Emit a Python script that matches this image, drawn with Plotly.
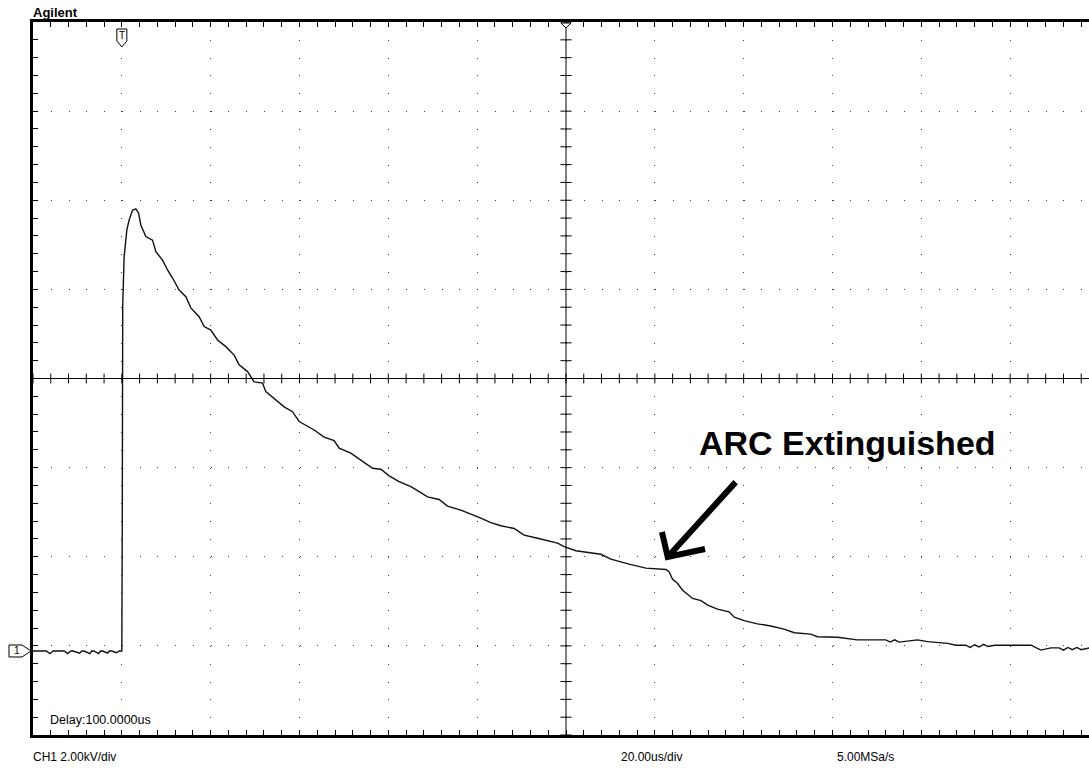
import plotly.graph_objects as go

# ---------------- data (time in us after trigger, voltage in kV) ----------------
t_us = [-20.0, -17.0, -16.2, -15.5, -15.0, -13.0, -12.2, -11.5, -11.0, -9.5, -9.0, -8.5,
        -7.2, -6.8, -6.3, -5.2, -4.8, -4.3, -3.2, -2.8, -2.3, -1.2, -0.6, -0.2,
        0.0, 0.1, 0.2, 0.52, 1.13, 1.64, 2.41, 3.15, 3.76, 4.28, 5.40, 6.91, 7.66,
        9.16, 10.29, 11.42, 12.90, 14.41, 15.54, 17.40, 18.53, 20.04, 21.55, 23.42,
        25.28, 26.41, 28.30, 29.79, 31.68, 32.42, 34.29, 36.54, 38.43, 39.92,
        43.30, 45.55, 47.80, 48.93, 51.56, 53.81, 56.45, 58.31, 60.18, 62.43, 65.07,
        66.58, 68.83, 71.44, 73.33, 76.33, 79.32, 80.83, 83.08, 85.33, 88.33, 90.58,
        93.60, 95.85, 98.10, 99.59, 102.22, 107.85, 110.1, 114.2, 118.0, 122.5,
        123.2, 124.0, 125.1, 126.2, 127.4, 128.5, 130.4, 131.9, 134.1, 136.7, 137.9,
        140.1, 143.1, 146.1, 149.1, 151.4, 155.1, 156.6, 161.1, 165.6, 170.0, 172.0,
        173.0, 174.0, 175.0, 179.1, 181.4, 185.9, 187.8, 190.0, 191.0, 192.0, 193.0,
        194.0, 195.0, 196.5, 204.7, 206.9, 209.2, 211.0, 212.0, 213.0, 214.0, 215.0,
        216.0, 217.9]
v_kv = [0.0, 0.0, -0.06, 0.0, 0.0, 0.0, -0.06, 0.0, 0.0, -0.05, 0.0, 0.0,
        -0.06, 0.0, 0.0, -0.06, 0.0, 0.0, -0.05, 0.0, 0.0, -0.04, 0.0, 0.0,
        0.0, 3.0, 7.76, 8.85, 9.45, 9.67, 9.89, 9.92, 9.83, 9.56, 9.30, 9.22, 8.96,
        8.77, 8.55, 8.37, 8.10, 7.95, 7.70, 7.50, 7.28, 7.20, 6.98, 6.83,
        6.64, 6.42, 6.27, 6.04, 6.01, 5.82, 5.67, 5.48, 5.37, 5.15,
        4.96, 4.80, 4.72, 4.55, 4.44, 4.29, 4.10, 4.08, 3.93, 3.80, 3.69,
        3.60, 3.46, 3.40, 3.25, 3.16, 3.05, 2.98, 2.88, 2.81, 2.75, 2.60,
        2.53, 2.48, 2.42, 2.34, 2.25, 2.17, 2.06, 1.95, 1.86, 1.83,
        1.78, 1.61, 1.52, 1.37, 1.26, 1.18, 1.13, 1.03, 0.94, 0.88, 0.76,
        0.68, 0.61, 0.56, 0.49, 0.41, 0.38, 0.32, 0.31, 0.25, 0.25, 0.25,
        0.20, 0.25, 0.20, 0.25, 0.21, 0.17, 0.13, 0.13, 0.08, 0.14, 0.09,
        0.15, 0.10, 0.13, 0.13, 0.02, 0.07, 0.07, 0.02, 0.08, 0.03, 0.08,
        0.03, 0.07]

# screen settings
T_LEFT = -20.0          # us at left edge of screen
US_PER_DIV = 20.0
KV_PER_DIV = 2.0
CENTER_KV = 6.115       # voltage at screen centre (channel offset)
N_VDIV = 8
T_RIGHT = 217.75        # visible right edge (screen is cut off)
T_CENTER = 100.0        # delay

V_BOT = CENTER_KV - KV_PER_DIV * N_VDIV / 2
V_TOP = CENTER_KV + KV_PER_DIV * N_VDIV / 2

W, H = 1089, 768
ML, MR, MT, MB = 33, 0, 22, 33
PW, PH = W - ML - MR, H - MT - MB

def px_x(t):
    return (t - T_LEFT) / (T_RIGHT - T_LEFT)

def py_v(v):
    return (v - V_BOT) / (V_TOP - V_BOT)

div_px_x = PW * US_PER_DIV / (T_RIGHT - T_LEFT)
div_px_y = PH / N_VDIV

fig = go.Figure()

fig.add_trace(go.Scatter(x=t_us, y=v_kv, mode="lines",
                         line=dict(color="#111111", width=1.4),
                         hoverinfo="skip", showlegend=False))

# centre cross tick marks
tx = []
t = T_LEFT
while t <= T_RIGHT + 1e-9:
    tx.append(t)
    t += US_PER_DIV / 5
fig.add_trace(go.Scatter(x=tx, y=[CENTER_KV] * len(tx), mode="markers",
                         marker=dict(symbol="line-ns", size=7, line=dict(color="black", width=1)),
                         hoverinfo="skip", showlegend=False, cliponaxis=True))
vy = [V_BOT + k * KV_PER_DIV / 5 for k in range(N_VDIV * 5 + 1)]
fig.add_trace(go.Scatter(x=[T_CENTER] * len(vy), y=vy, mode="markers",
                         marker=dict(symbol="line-ew", size=8, line=dict(color="black", width=1)),
                         hoverinfo="skip", showlegend=False, cliponaxis=True))

# centre cross lines
fig.add_shape(type="line", xref="x", yref="paper", x0=T_CENTER, x1=T_CENTER, y0=0, y1=1,
              line=dict(color="black", width=1), layer="above")
fig.add_shape(type="line", xref="paper", yref="y", x0=0, x1=1, y0=CENTER_KV, y1=CENTER_KV,
              line=dict(color="black", width=1), layer="above")

# trigger marker (T) at top
tx0 = px_x(0.0)
hw = 5 / PW
fig.add_shape(type="path", xref="paper", yref="paper",
              path=(f"M {tx0-hw},{1-7/PH} L {tx0+hw},{1-7/PH} L {tx0+hw},{1-19/PH} "
                    f"L {tx0},{1-25/PH} L {tx0-hw},{1-19/PH} Z"),
              line=dict(color="black", width=1), fillcolor="white", layer="above")
fig.add_annotation(xref="paper", yref="paper", x=tx0, y=1 - 14 / PH, text="T",
                   xanchor="center", yanchor="middle",
                   showarrow=False, font=dict(family="Liberation Sans", size=10, color="black"))

# delay marker at top centre
cx = px_x(T_CENTER)
fig.add_shape(type="path", xref="paper", yref="paper",
              path=f"M {cx-5/PW},{1-1/PH} L {cx+5/PW},{1-1/PH} L {cx},{1-6/PH} Z",
              line=dict(color="black", width=1), fillcolor="white", layer="above")

# ground marker "1" on the left
gy = py_v(0.0)
fig.add_shape(type="path", xref="paper", yref="paper",
              path=(f"M {-24/PW},{gy+6/PH} L {-11/PW},{gy+6/PH} L {-2/PW},{gy} "
                    f"L {-11/PW},{gy-6/PH} L {-24/PW},{gy-6/PH} Z"),
              line=dict(color="black", width=1), fillcolor="white", layer="above")
fig.add_annotation(xref="paper", yref="paper", x=-16 / PW, y=gy, text="1",
                   xanchor="center", yanchor="middle",
                   showarrow=False, font=dict(family="Liberation Sans", size=10, color="black"))

# arrow for ARC Extinguished
arrow_tail = (138.2, 3.79)
arrow_tip = (122.9, 2.11)
wing1 = (121.6, 2.67)
wing2 = (131.3, 2.29)
fig.add_shape(type="path", xref="x", yref="y",
              path=(f"M {arrow_tail[0]},{arrow_tail[1]} L {arrow_tip[0]},{arrow_tip[1]} "
                    f"M {wing1[0]},{wing1[1]} L {arrow_tip[0]},{arrow_tip[1]} L {wing2[0]},{wing2[1]}"),
              line=dict(color="black", width=6), layer="above")

font_small = dict(family="Liberation Sans", size=12, color="black")
fig.add_annotation(xref="x", yref="y", x=129.4, y=4.66, text="<b>ARC Extinguished</b>",
                   xanchor="left", yanchor="middle", showarrow=False,
                   font=dict(family="Liberation Sans", size=34, color="black"))
fig.add_annotation(xref="paper", yref="paper", x=-2 / PW, y=1 + 9 / PH, text="<b>Agilent</b>",
                   xanchor="left", yanchor="middle", showarrow=False,
                   font=dict(family="Liberation Sans", size=13, color="black"))
fig.add_annotation(xref="paper", yref="paper", x=-2 / PW, y=-22 / PH, text="CH1 2.00kV/div",
                   xanchor="left", yanchor="middle", showarrow=False, font=font_small)
fig.add_annotation(xref="paper", yref="paper", x=(619 - ML) / PW, y=-22 / PH, text="20.00us/div",
                   xanchor="left", yanchor="middle", showarrow=False, font=font_small)
fig.add_annotation(xref="paper", yref="paper", x=(835 - ML) / PW, y=-22 / PH, text="5.00MSa/s",
                   xanchor="left", yanchor="middle", showarrow=False, font=font_small)
fig.add_annotation(xref="paper", yref="paper", x=15 / PW, y=15 / PH, text="Delay:100.0000us",
                   xanchor="left", yanchor="middle", showarrow=False,
                   font=dict(family="Liberation Sans", size=12.5, color="black"))

fig.update_xaxes(range=[T_LEFT, T_RIGHT], tick0=0, dtick=US_PER_DIV,
                 showgrid=True, gridcolor="#444444", gridwidth=1,
                 griddash=f"1px,{div_px_y/5-1:.3f}px",
                 zeroline=False, showticklabels=False,
                 showline=True, linecolor="black", linewidth=3, mirror="ticks",
                 ticks="inside", ticklen=5, tickcolor="black", tickwidth=1,
                 minor=dict(dtick=US_PER_DIV / 5, tick0=0, ticks="inside", ticklen=5,
                            tickcolor="black", tickwidth=1, showgrid=False),
                 fixedrange=True)
fig.update_yaxes(range=[V_BOT, V_TOP], tick0=CENTER_KV, dtick=KV_PER_DIV,
                 showgrid=True, gridcolor="#444444", gridwidth=1,
                 griddash=f"1px,{div_px_x/5-1:.3f}px",
                 zeroline=False, showticklabels=False,
                 showline=True, linecolor="black", linewidth=3, mirror=False,
                 ticks="inside", ticklen=5, tickcolor="black", tickwidth=1,
                 minor=dict(dtick=KV_PER_DIV / 5, tick0=CENTER_KV, ticks="inside", ticklen=5,
                            tickcolor="black", tickwidth=1, showgrid=False),
                 fixedrange=True)

fig.update_layout(width=W, height=H, autosize=False,
                  margin=dict(l=ML, r=MR, t=MT, b=MB, pad=0),
                  plot_bgcolor="white", paper_bgcolor="white",
                  showlegend=False)

fig.write_html("out.html", config={"displayModeBar": False})
